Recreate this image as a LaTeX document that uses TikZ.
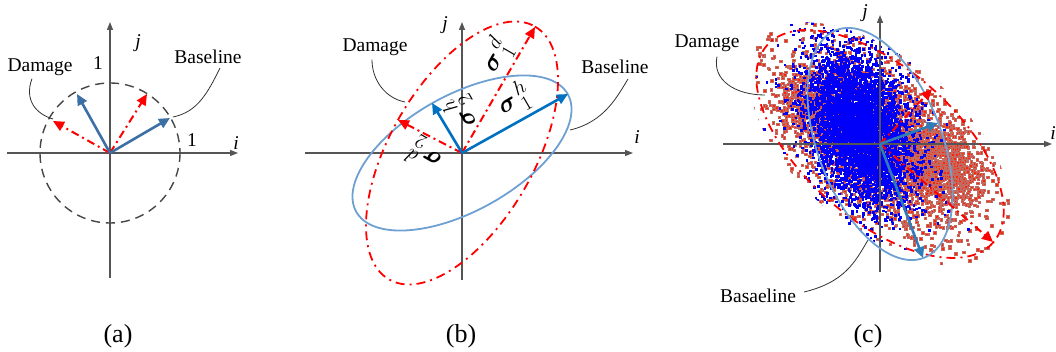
\documentclass[tikz,border=0pt]{standalone}
\usepackage{fontspec}
\setmainfont{Liberation Serif}
\usepackage{amsmath}
\usetikzlibrary{arrows.meta}
\definecolor{axisgray}{RGB}{85,85,85}
\definecolor{leadgray}{RGB}{50,50,50}
\definecolor{circgray}{RGB}{70,70,70}
\definecolor{bluea}{RGB}{60,112,165}
\definecolor{blueb}{RGB}{0,112,192}
\definecolor{bluec}{RGB}{46,125,185}
\definecolor{ellblue}{RGB}{110,160,210}
\definecolor{redpt}{RGB}{250,40,10}
\definecolor{redptedge}{RGB}{195,105,95}
\definecolor{bluept}{RGB}{0,0,250}
\begin{document}
\begin{tikzpicture}[x=1pt,y=-1pt,
  axis/.style={draw=axisgray, line width=1.3pt, -{Triangle[length=8pt,width=6pt]}},
  bluearr/.style={line width=2.6pt, -{Triangle[length=11pt,width=10pt]}},
  redarr/.style={draw=red, line width=2pt, dash pattern=on 8pt off 4pt on 2pt off 4pt, -{Triangle[length=11pt,width=10pt]}},
  redell/.style={draw=red, line width=1.8pt, dash pattern=on 9pt off 5pt on 2pt off 5pt},
  blueell/.style={draw=ellblue, line width=1.8pt},
  leader/.style={draw=leadgray, line width=0.8pt},
  lbl/.style={font=\fontsize{19.5}{22}\selectfont, inner sep=0pt},
  captxt/.style={font=\fontsize{26}{30}\selectfont, inner sep=0pt},
  sig/.style={font=\fontsize{28}{28}\selectfont, inner sep=0pt},
  rdot/.style={fill=redpt, draw=redptedge, line width=0.3pt},
  bdot/.style={fill=bluept}]
\useasboundingbox (0,0) rectangle (1056,352);

% ---------------- panel (a)
\coordinate (oa) at (110,153);
\coordinate (axaL) at (7,153);
\coordinate (axaR) at (238,153);
\coordinate (axaB) at (110,278);
\coordinate (axaT) at (110,22);
\draw[axis] (axaL) -- (axaR);
\draw[axis] (axaB) -- (axaT);
\draw[draw=circgray, line width=1.4pt, dash pattern=on 9pt off 6pt] (oa) circle (70);
\coordinate (ab1) at (77,94);
\coordinate (ab2) at (170,118);
\coordinate (ar1) at (147,94);
\coordinate (ar2) at (53,121);
\draw[redarr] (oa) -- (ar1);
\draw[redarr] (oa) -- (ar2);
\draw[bluearr, draw=bluea, bluea] (oa) -- (ab1);
\draw[bluearr, draw=bluea, bluea] (oa) -- (ab2);
\node[lbl] (ja) at (138,43) {\textit{j}};
\node[lbl] (ia) at (236,143) {\textit{i}};
\node[lbl] (onea) at (98,63) {1};
\node[lbl] (oneb) at (192,140) {1};
\node[lbl] (dama) at (40,67) {Damage};
\node[lbl] (basa) at (208,57) {Baseline};
\coordinate (dama-end) at (53,119);
\coordinate (basa-end) at (173,117);
\draw[leader] (dama.south) ++(-8,3) coordinate (dama-st) .. controls (24,100) and (36,114) .. (dama-end);
\draw[leader] (basa.south) ++(12,4) coordinate (basa-st) .. controls (208,92) and (198,112) .. (basa-end);

% ---------------- panel (b)
\coordinate (ob) at (462,153);
\coordinate (axbL) at (305,153);
\coordinate (axbR) at (633,153);
\coordinate (axbB) at (462,280);
\coordinate (axbT) at (462,22);
\draw[axis] (axbL) -- (axbR);
\draw[axis] (axbB) -- (axbT);
\draw[blueell, rotate around={29:(ob)}] (ob) ellipse [x radius=121, y radius=58];
\draw[redell, rotate around={60:(ob)}] (ob) ellipse [x radius=146, y radius=72];
\coordinate (bb1) at (568,94);
\coordinate (bb2) at (432,103);
\coordinate (br1) at (535,27);
\coordinate (br2) at (398,120);
\draw[redarr] (ob) -- (br1);
\draw[redarr] (ob) -- (br2);
\draw[bluearr, draw=blueb, blueb] (ob) -- (bb1);
\draw[bluearr, draw=blueb, blueb] (ob) -- (bb2);
\node[lbl] (jb) at (445,25) {\textit{j}};
\node[lbl] (ib) at (637,137) {\textit{i}};
\node[lbl] (damb) at (375,47) {Damage};
\node[lbl] (basb) at (615,67) {Baseline};
\coordinate (damb-end) at (405,102);
\coordinate (basb-end) at (570,130);
\draw[leader] (damb.south) ++(-3,4) coordinate (damb-st) .. controls (372,80) and (385,98) .. (damb-end);
\draw[leader] (basb.south) ++(13,5) coordinate (basb-st) .. controls (618,95) and (605,122) .. (basb-end);
\node[sig, rotate=60] (s1d) at (496,56) {$\boldsymbol{\sigma}^{\,d}_{\,1}$};
\node[sig, rotate=30] (s1h) at (514,100) {$\boldsymbol{\sigma}^{\,h}_{\,1}$};
\node[sig, rotate=120] (s2h) at (462,112) {$\boldsymbol{\sigma}^{\,h}_{\,2}$};
\node[sig, rotate=150] (s2d) at (425,155) {$\boldsymbol{\sigma}^{\,d}_{\,2}$};

% ---------------- panel (c)
\coordinate (oc) at (880,144);
\begin{scope}
\clip[rotate around={-41:(oc)}] (oc) ellipse [x radius=158, y radius=84];
\pgfmathsetseed{11}
\foreach \k in {1,...,2600}{%
  \pgfmathsetmacro\Rr{sqrt(-2*ln(rnd+0.00001))}%
  \pgfmathsetmacro\Ang{360*rnd}%
  \pgfmathsetmacro\Px{881.3+\Rr*(58*0.7547*cos(\Ang)-33*0.6561*sin(\Ang))}%
  \pgfmathsetmacro\Py{143.7+\Rr*(58*0.6561*cos(\Ang)+33*0.7547*sin(\Ang))}%
  \filldraw[rdot] (\Px,\Py) rectangle ++(2.5,2.5);
}
\foreach \k in {1,...,1000}{%
  \pgfmathsetmacro\Rr{sqrt(-2*ln(rnd+0.00001))}%
  \pgfmathsetmacro\Ang{360*rnd}%
  \pgfmathsetmacro\Px{934.7+\Rr*(24*0.7547*cos(\Ang)-18*0.6561*sin(\Ang))}%
  \pgfmathsetmacro\Py{161.7+\Rr*(24*0.6561*cos(\Ang)+18*0.7547*sin(\Ang))}%
  \filldraw[rdot] (\Px,\Py) rectangle ++(2.5,2.5);
}
\foreach \k in {1,...,500}{%
  \pgfmathsetmacro\Rr{sqrt(-2*ln(rnd+0.00001))}%
  \pgfmathsetmacro\Ang{360*rnd}%
  \pgfmathsetmacro\Px{810.7+\Rr*(20*0.7547*cos(\Ang)-16*0.6561*sin(\Ang))}%
  \pgfmathsetmacro\Py{106.7+\Rr*(20*0.6561*cos(\Ang)+16*0.7547*sin(\Ang))}%
  \filldraw[rdot] (\Px,\Py) rectangle ++(2.5,2.5);
}
\foreach \k in {1,...,5000}{%
  \pgfmathsetmacro\Rr{sqrt(-2*ln(rnd+0.00001))}%
  \pgfmathsetmacro\Ang{360*rnd}%
  \pgfmathsetmacro\Px{858.5+\Rr*(40*0.3584*cos(\Ang)-24*0.9336*sin(\Ang))}%
  \pgfmathsetmacro\Py{126.5+\Rr*(40*0.9336*cos(\Ang)+24*0.3584*sin(\Ang))}%
  \fill[bdot] (\Px,\Py) rectangle ++(2.6,2.6);
}
\end{scope}
\coordinate (axcL) at (723,144);
\coordinate (axcR) at (1052,144);
\coordinate (axcB) at (880,272);
\coordinate (axcT) at (880,15);
\draw[axis] (axcL) -- (axcR);
\draw[axis] (axcB) -- (axcT);
\draw[redell, rotate around={-41:(oc)}] (oc) ellipse [x radius=150, y radius=76];
\draw[blueell, rotate around={-69:(oc)}] (oc) ellipse [x radius=122, y radius=62];
\coordinate (cb1) at (923,258);
\coordinate (cb2) at (938,123);
\coordinate (cr1) at (993,242);
\coordinate (cr2) at (932,89);
\draw[redarr] (oc) -- (cr1);
\draw[redarr] (oc) -- (cr2);
\draw[bluearr, draw=bluec, bluec] (oc) -- (cb1);
\draw[bluearr, draw=bluec, bluec] (oc) -- (cb2);
\node[lbl] (jc) at (865,13) {\textit{j}};
\node[lbl] (ic) at (1053,133) {\textit{i}};
\node[lbl] (damc) at (707,43) {Damage};
\node[lbl] (basc) at (758,296) {Basaeline};
\coordinate (damc-end) at (765,95);
\coordinate (basc-end) at (868,240);
\draw[leader] (damc.south) ++(10,5) coordinate (damc-st) .. controls (712,80) and (735,95) .. (damc-end);
\draw[leader] (basc.east) ++(8,-4) coordinate (basc-st) .. controls (845,282) and (855,262) .. (basc-end);

% ---------------- captions
\node[captxt] (capa) at (118,336) {(a)};
\node[captxt] (capb) at (461,336) {(b)};
\node[captxt] (capc) at (868,336) {(c)};
\end{tikzpicture}
\end{document}
